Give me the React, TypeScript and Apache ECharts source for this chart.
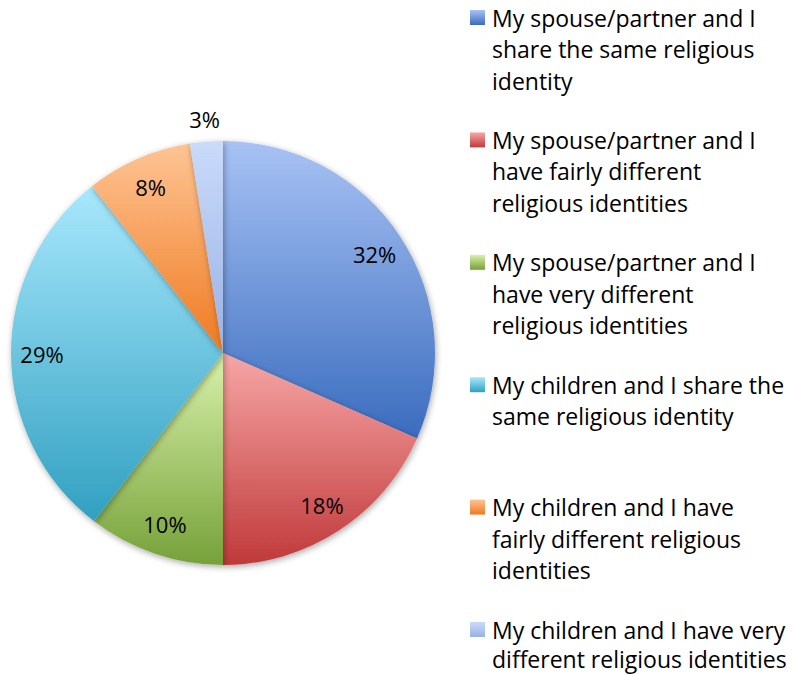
import React, { useEffect, useRef } from "react";
import * as echarts from "echarts";

const categories = [
  "My spouse/partner and I share the same religious identity",
  "My spouse/partner and I have fairly different religious identities",
  "My spouse/partner and I have very different religious identities",
  "My children and I share the same religious identity",
  "My children and I have fairly different religious identities",
  "My children and I have very different religious identities",
];
const legendLines = [
  ["My spouse/partner and I", "share the same religious", "identity"],
  ["My spouse/partner and I", "have fairly different", "religious identities"],
  ["My spouse/partner and I", "have very different", "religious identities"],
  ["My children and I share the", "same religious identity"],
  ["My children and I have", "fairly different religious", "identities"],
  ["My children and I have very", "different religious identities"],
];
const shares = [31.6, 18.4, 10.4, 29.0, 8.1, 2.5];
const outsideLabel = [false, false, false, false, false, true];

const gradientStops = [
  ["#a8c2f4", "#3a6cbe"],
  ["#f7a6a6", "#c0393a"],
  ["#d9f1aa", "#76a139"],
  ["#a8e8fc", "#31a0c1"],
  ["#fec494", "#ef7a20"],
  ["#cadafa", "#98b2e5"],
];

const FONT = "'Open Sans', 'Liberation Sans', sans-serif";

function grad(i: number) {
  return new echarts.graphic.LinearGradient(0, 0, 0, 1, [
    { offset: 0, color: gradientStops[i][0] },
    { offset: 1, color: gradientStops[i][1] },
  ]);
}

export default function App() {
  const ref = useRef<HTMLDivElement>(null);
  useEffect(() => {
    if (!ref.current) return;
    const chart = echarts.init(ref.current, undefined, { renderer: "svg" });
    const center = [223, 353];
    const fmt = (p: any) => `${Math.round(p.value)}%`;

    const legendGraphics: any[] = [];
    legendLines.forEach((lines, i) => {
      const top = 10 + 122.4 * i;
      const last = i === legendLines.length - 1;
      const lh = last ? 29 : 31.5;
      legendGraphics.push({
        type: "rect",
        left: 470,
        top: top,
        shape: { width: 15, height: 15 },
        style: { fill: grad(i) },
      });
      legendGraphics.push({
        type: "text",
        left: 492,
        top: top + 7.5 - lh / 2,
        style: {
          text: lines.join("\n"),
          font: `23px ${FONT}`,
          lineHeight: lh,
          fill: "#000",
        },
      });
    });

    const labelStyle = {
      show: true,
      position: "inside",
      formatter: fmt,
      fontFamily: FONT,
      fontSize: 22,
      color: "#000",
    };

    chart.setOption({
      animation: false,
      backgroundColor: "#fff",
      graphic: legendGraphics,
      series: [
        {
          type: "pie",
          center,
          radius: 212,
          startAngle: 90,
          clockwise: true,
          silent: true,
          label: { show: false },
          labelLine: { show: false },
          itemStyle: {
            shadowBlur: 6,
            shadowColor: "rgba(0,0,0,0.35)",
            shadowOffsetX: 1,
            shadowOffsetY: 2,
          },
          data: categories.map((name, i) => ({
            name,
            value: shares[i],
            itemStyle: { color: grad(i) },
          })),
        },
        {
          type: "pie",
          center,
          radius: [156, 200],
          startAngle: 90,
          silent: true,
          itemStyle: { color: "rgba(0,0,0,0)" },
          labelLine: { show: false },
          label: labelStyle,
          data: categories.map((name, i) => ({
            name,
            value: shares[i],
            label: { show: !outsideLabel[i] },
          })),
        },
        {
          type: "pie",
          center,
          radius: [222, 242],
          startAngle: 90,
          silent: true,
          itemStyle: { color: "rgba(0,0,0,0)" },
          labelLine: { show: false },
          label: labelStyle,
          data: categories.map((name, i) => ({
            name,
            value: shares[i],
            label: { show: outsideLabel[i] },
          })),
        },
      ],
    });
    return () => chart.dispose();
  }, []);
  return (
    <div
      ref={ref}
      style={{ position: "fixed", left: 0, top: 0, width: 794, height: 674 }}
    />
  );
}
